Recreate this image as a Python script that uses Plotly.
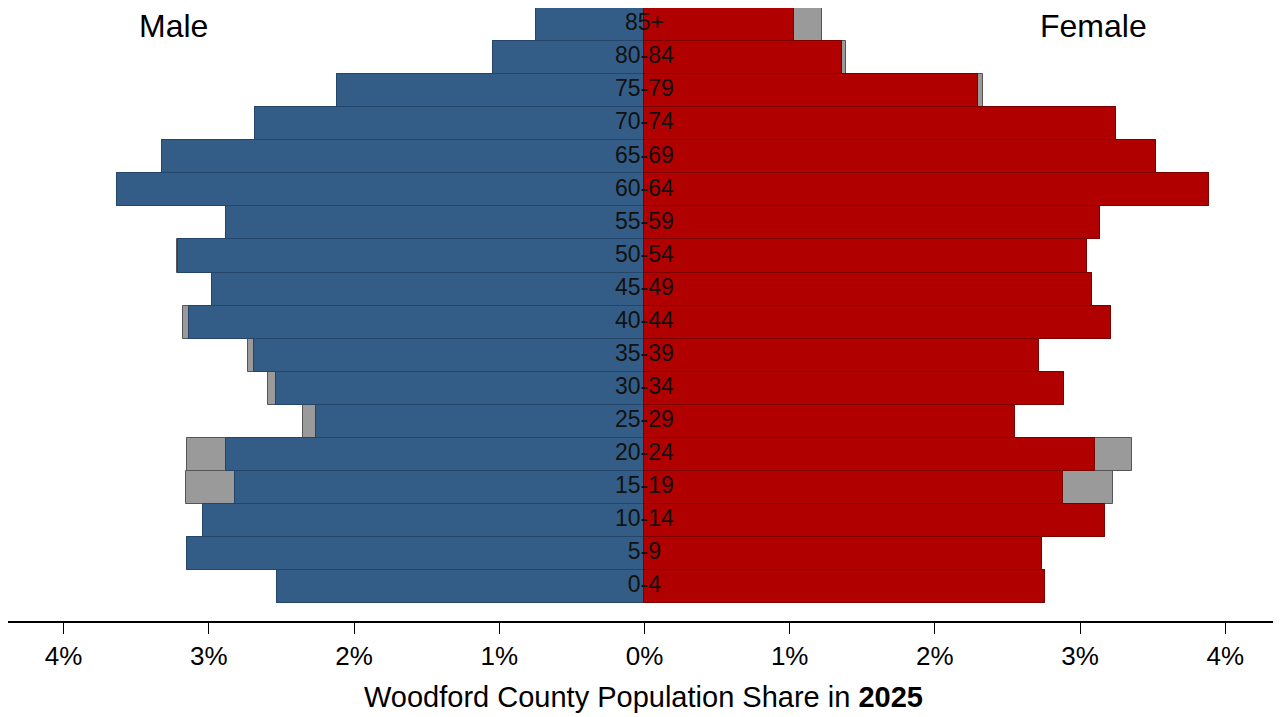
import plotly.graph_objects as go

age_groups = ["0-4", "5-9", "10-14", "15-19", "20-24", "25-29", "30-34", "35-39",
              "40-44", "45-49", "50-54", "55-59", "60-64", "65-69", "70-74",
              "75-79", "80-84", "85+"]
male_share = [2.53, 3.15, 3.04, 2.82, 2.88, 2.26, 2.54, 2.69, 3.14, 2.98, 3.21,
              2.88, 3.63, 3.32, 2.68, 2.12, 1.04, 0.75]
male_total = [2.53, 3.15, 3.04, 3.16, 3.15, 2.35, 2.59, 2.73, 3.18, 2.98, 3.22,
              2.88, 3.63, 3.32, 2.68, 2.12, 1.04, 0.75]
female_share = [2.76, 2.74, 3.17, 2.88, 3.10, 2.55, 2.89, 2.72, 3.21, 3.08, 3.05,
                3.14, 3.89, 3.52, 3.25, 2.30, 1.36, 1.03]
female_total = [2.76, 2.74, 3.17, 3.23, 3.36, 2.55, 2.89, 2.72, 3.21, 3.08, 3.05,
                3.14, 3.89, 3.52, 3.25, 2.33, 1.39, 1.22]
tick_vals = [-4, -3, -2, -1, 0, 1, 2, 3, 4]
tick_text = ["4%", "3%", "2%", "1%", "0%", "1%", "2%", "3%", "4%"]

FONT = "Liberation Sans, Arial, sans-serif"
BLUE = "#335d87"
BLUE_EDGE = "#23456a"
RED = "#b10000"
RED_EDGE = "#7a0000"
GREY = "#9a9a9a"
GREY_EDGE = "#555555"

fig = go.Figure()
fig.add_trace(go.Bar(y=age_groups, x=[-v for v in male_total], orientation="h",
                     marker=dict(color=GREY, line=dict(color=GREY_EDGE, width=1)),
                     showlegend=False, hoverinfo="skip"))
fig.add_trace(go.Bar(y=age_groups, x=female_total, orientation="h",
                     marker=dict(color=GREY, line=dict(color=GREY_EDGE, width=1)),
                     showlegend=False, hoverinfo="skip"))
fig.add_trace(go.Bar(y=age_groups, x=[-v for v in male_share], orientation="h",
                     marker=dict(color=BLUE, line=dict(color=BLUE_EDGE, width=1)),
                     showlegend=False, name="Male"))
fig.add_trace(go.Bar(y=age_groups, x=female_share, orientation="h",
                     marker=dict(color=RED, line=dict(color=RED_EDGE, width=1)),
                     showlegend=False, name="Female"))
fig.add_trace(go.Scatter(y=age_groups, x=[0] * len(age_groups), mode="text",
                         text=age_groups, textposition="middle center",
                         textfont=dict(family=FONT, size=23, color="#111111"),
                         showlegend=False, hoverinfo="skip"))

# The page body has an 8px default margin, so the figure is sized to fit
# the 1281x717 window with that offset.
fig.update_layout(
    width=1273, height=709,
    margin=dict(l=0, r=3, t=0, b=96),
    barmode="overlay", bargap=0,
    plot_bgcolor="white", paper_bgcolor="white",
    font=dict(family=FONT, color="black"),
    xaxis=dict(range=[-4.383, 4.363], tickvals=tick_vals, ticktext=tick_text,
               tickfont=dict(size=26, family=FONT, color="black"),
               showgrid=False, zeroline=False, showline=True,
               linecolor="black", linewidth=1.5,
               ticks="outside", ticklen=11, tickwidth=1, tickcolor="black"),
    yaxis=dict(type="category", categoryorder="array", categoryarray=age_groups,
               range=[-1.04, 17.5], showticklabels=False, showgrid=False,
               zeroline=False, showline=False, ticks=""),
    annotations=[
        dict(text="Male", x=0.130, y=0.9706, xref="paper", yref="paper",
             xanchor="center", yanchor="middle", showarrow=False,
             font=dict(size=32, family=FONT, color="black")),
        dict(text="Female", x=0.855, y=0.9706, xref="paper", yref="paper",
             xanchor="center", yanchor="middle", showarrow=False,
             font=dict(size=32, family=FONT, color="black")),
        dict(text="Woodford County Population Share in <b>2025</b>",
             x=0.5, y=-0.124, xref="paper", yref="paper",
             xanchor="center", yanchor="middle", showarrow=False,
             font=dict(size=29, family=FONT, color="black")),
    ],
)

fig.write_html("out.html", config={"displayModeBar": False})
